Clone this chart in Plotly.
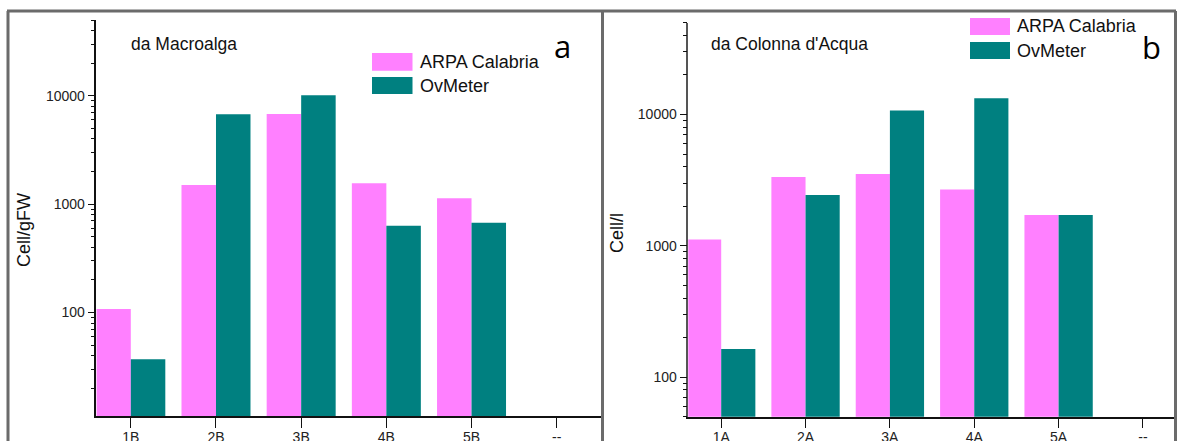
import plotly.graph_objects as go

# Sample sites and counts (cells) for the two panels
sites_macro = ["1B", "2B", "3B", "4B", "5B", "--"]
arpa_macro = [108, 1500, 6800, 1560, 1136]
ovmeter_macro = [37, 6750, 10100, 631, 673]

sites_water = ["1A", "2A", "3A", "4A", "5A", "--"]
arpa_water = [1116, 3340, 3520, 2690, 1720]
ovmeter_water = [164, 2440, 10720, 13300, 1720]

PINK = "#FF80FF"
TEAL = "#008080"
FONT = "Liberation Sans, Arial, sans-serif"
W, H = 1177, 441


def px(x):
    return x / W


def py(y):
    return (H - y) / H


fig = go.Figure()

fig.add_trace(go.Bar(x=list(range(len(arpa_macro))), y=arpa_macro, name="ARPA Calabria",
                     marker=dict(color=PINK, line=dict(width=0)), xaxis="x", yaxis="y",
                     showlegend=False))
fig.add_trace(go.Bar(x=list(range(len(ovmeter_macro))), y=ovmeter_macro, name="OvMeter",
                     marker=dict(color=TEAL, line=dict(width=0)), xaxis="x", yaxis="y",
                     showlegend=False))
fig.add_trace(go.Bar(x=list(range(len(arpa_water))), y=arpa_water, name="ARPA Calabria",
                     marker=dict(color=PINK, line=dict(width=0)), xaxis="x2", yaxis="y2",
                     showlegend=False, offsetgroup="a2"))
fig.add_trace(go.Bar(x=list(range(len(ovmeter_water))), y=ovmeter_water, name="OvMeter",
                     marker=dict(color=TEAL, line=dict(width=0)), xaxis="x2", yaxis="y2",
                     showlegend=False, offsetgroup="b2"))

minor_log = [m * 10 ** e for e in range(1, 5) for m in range(2, 10)]
mid_ticks = [i + 0.5 for i in range(6)]

x_common = dict(
    type="linear", showgrid=False, zeroline=False, showline=True, linecolor="#111",
    linewidth=1.5, ticks="outside", ticklen=10, tickwidth=1.2, tickcolor="#111",
    tickmode="array", ticklabelstandoff=-3, automargin=False,
    tickfont=dict(family=FONT, size=14, color="#222"),
    fixedrange=True,
)
# secondary x axes carry only the short ticks between sites
x_mid = dict(
    type="linear", showgrid=False, zeroline=False, showline=False, showticklabels=False,
    ticks="outside", ticklen=5, tickwidth=1.2, tickcolor="#111", automargin=False,
    tickmode="array", tickvals=mid_ticks, fixedrange=True,
)
y_common = dict(
    type="log", showgrid=False, zeroline=False, showline=True, linewidth=1.5,
    ticks="outside", ticklen=7, tickwidth=1.2, tickcolor="#111", automargin=False,
    tickmode="array", tickvals=[100, 1000, 10000], ticktext=["100", "1000", "10000"],
    tickfont=dict(family=FONT, size=14, color="#222"),
    minor=dict(ticks="outside", ticklen=4, tickwidth=1.2, tickcolor="#111",
               tickmode="array", tickvals=minor_log),
    fixedrange=True,
)

fig.update_layout(
    width=W, height=H,
    margin=dict(l=0, r=0, t=0, b=0),
    paper_bgcolor="white", plot_bgcolor="white",
    barmode="group", bargap=0.19, bargroupgap=0,
    xaxis=dict(x_common, domain=[px(96.4), px(601)], range=[-0.404, 5.52],
               tickvals=list(range(len(sites_macro))), ticktext=sites_macro, anchor="y"),
    yaxis=dict(y_common, domain=[py(416), py(20)], range=[1.045, 4.699],
               linecolor="#111", anchor="x"),
    xaxis2=dict(x_common, domain=[px(688.3), px(1175)], range=[-0.39, 5.38],
                tickvals=list(range(len(sites_water))), ticktext=sites_water, anchor="y2"),
    yaxis2=dict(y_common, domain=[py(416.7), py(22.7)], range=[1.699, 4.699],
                linecolor="#555", anchor="x2"),
    xaxis3=dict(x_mid, domain=[px(96.4), px(601)], range=[-0.404, 5.52],
                overlaying="x", anchor="y", side="bottom"),
    xaxis4=dict(x_mid, domain=[px(688.3), px(1175)], range=[-0.39, 5.38],
                overlaying="x2", anchor="y2", side="bottom"),
    showlegend=False,
)

# Panel frames
frame = dict(type="line", xref="paper", yref="paper", line=dict(color="#6b6b6b", width=3))
fig.add_shape(frame, x0=px(7), x1=px(1176), y0=py(11), y1=py(11))
fig.add_shape(frame, x0=px(8), x1=px(8), y0=py(11), y1=py(445))
fig.add_shape(frame, x0=px(602.5), x1=px(602.5), y0=py(11), y1=py(445))
fig.add_shape(frame, x0=px(1175.5), x1=px(1175.5), y0=py(11), y1=py(445))

# Legend boxes and labels for each panel
legends = [
    (372, 412.5, [(53, 70.7), (77, 94)]),
    (970, 1010, [(18, 35), (42, 59)]),
]
for x0, x1, rows in legends:
    for (y0, y1), color, label in zip(rows, [PINK, TEAL], ["ARPA Calabria", "OvMeter"]):
        fig.add_shape(type="rect", xref="paper", yref="paper",
                      x0=px(x0), x1=px(x1), y0=py(y1), y1=py(y0),
                      fillcolor=color, line=dict(width=0))
        fig.add_annotation(text=label, xref="paper", yref="paper",
                           x=px(x1 + 5), y=py((y0 + y1) / 2), xanchor="left", yanchor="middle",
                           showarrow=False, font=dict(family=FONT, size=18, color="#111"))

# Panel captions
fig.add_annotation(text="da Macroalga", xref="paper", yref="paper", x=px(129), y=py(44),
                   xanchor="left", yanchor="middle", showarrow=False,
                   font=dict(family=FONT, size=17.5, color="#111"))
fig.add_annotation(text="da Colonna d'Acqua", xref="paper", yref="paper", x=px(709), y=py(44),
                   xanchor="left", yanchor="middle", showarrow=False,
                   font=dict(family=FONT, size=17.5, color="#111"))
fig.add_annotation(text="a", xref="paper", yref="paper", x=px(562), y=py(46),
                   xanchor="center", yanchor="middle", showarrow=False,
                   font=dict(family="Open Sans, sans-serif", size=31, color="#000"))
fig.add_annotation(text="b", xref="paper", yref="paper", x=px(1151), y=py(47),
                   xanchor="center", yanchor="middle", showarrow=False,
                   font=dict(family="Open Sans, sans-serif", size=31, color="#000"))

# Axis titles
fig.add_annotation(text="Cell/gFW", xref="paper", yref="paper", x=px(24), y=py(230),
                   xanchor="center", yanchor="middle", textangle=-90, showarrow=False,
                   font=dict(family=FONT, size=18, color="#111"))
fig.add_annotation(text="Cell/l", xref="paper", yref="paper", x=px(617), y=py(233),
                   xanchor="center", yanchor="middle", textangle=-90, showarrow=False,
                   font=dict(family=FONT, size=18, color="#111"))

fig.write_html("out.html")
